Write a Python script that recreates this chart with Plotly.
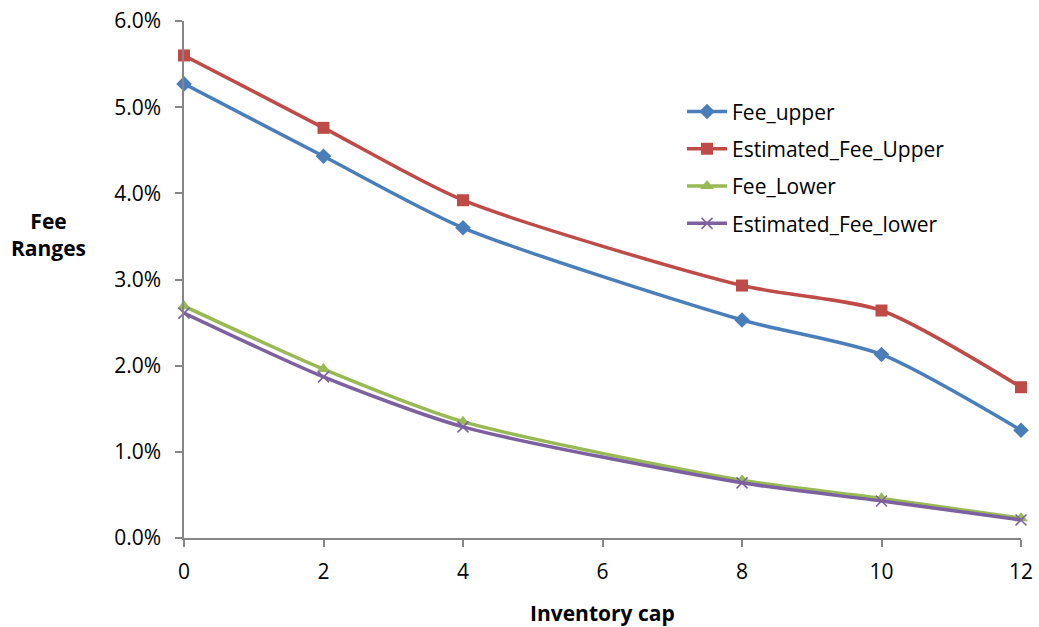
import plotly.graph_objects as go

inventory_cap = [0, 2, 4, 8, 10, 12]
fee_upper = [0.0527, 0.0443, 0.0360, 0.0253, 0.0213, 0.0125]
est_fee_upper = [0.0560, 0.0476, 0.0392, 0.0293, 0.0264, 0.0175]
fee_lower = [0.0269, 0.0196, 0.0135, 0.0067, 0.0046, 0.0023]
est_fee_lower = [0.0261, 0.0187, 0.0129, 0.0064, 0.0043, 0.0021]

x_ticks = [0, 2, 4, 6, 8, 10, 12]
y_ticks = [0, 0.01, 0.02, 0.03, 0.04, 0.05, 0.06]

FONT = "Open Sans"
FS = 21

series = [
    ("Fee_upper", fee_upper, "#4A7EBB", dict(symbol="diamond", size=12)),
    ("Estimated_Fee_Upper", est_fee_upper, "#BE4B48", dict(symbol="square", size=12)),
    ("Fee_Lower", fee_lower, "#98B954", dict(symbol="triangle-up", size=12)),
    ("Estimated_Fee_lower", est_fee_lower, "#7D60A0", dict(symbol="x-thin", size=11, line=dict(width=1.5, color="#7D60A0"))),
]

fig = go.Figure()
for i, (name, ys, color, mk) in enumerate(series):
    fig.add_trace(go.Scatter(
        x=inventory_cap, y=ys, name=name, mode="lines+markers",
        line=dict(color=color, width=3.5, shape="spline", smoothing=0.7),
        marker=dict(color=color, **mk),
        cliponaxis=False, legendgroup=str(i),
    ))

fig.update_layout(
    template="none",
    width=1039, height=627,
    margin=dict(l=184, r=18, t=21, b=89, autoexpand=False),
    paper_bgcolor="white", plot_bgcolor="white",
    font=dict(family=FONT, size=FS, color="#000000"),
    showlegend=True,
    legend=dict(x=0.595, y=0.864, xanchor="left", yanchor="top",
                traceorder="grouped", tracegroupgap=7, itemwidth=40,
                font=dict(family=FONT, size=FS), bgcolor="rgba(0,0,0,0)"),
    xaxis=dict(range=[0, 12], tickvals=x_ticks, ticktext=[str(v) for v in x_ticks],
               automargin=False,
               showgrid=False, zeroline=False, showline=True, linecolor="#868686", linewidth=1.5,
               ticks="outside", ticklen=7, tickcolor="#868686", tickwidth=1.5,
               ticklabelstandoff=7,
               tickfont=dict(family=FONT, size=FS)),
    yaxis=dict(range=[0, 0.06], tickvals=y_ticks, tickformat=".1%",
               automargin=False,
               showgrid=False, zeroline=False, showline=True, linecolor="#868686", linewidth=1.5,
               ticks="outside", ticklen=7, tickcolor="#868686", tickwidth=1.5,
               ticklabelstandoff=10,
               tickfont=dict(family=FONT, size=FS)),
    annotations=[
        dict(text="<b>Fee<br>Ranges</b>", xref="paper", yref="paper",
             x=-0.162, y=0.587, xanchor="center", yanchor="middle",
             showarrow=False, font=dict(family=FONT, size=FS)),
        dict(text="<b>Inventory cap</b>", xref="paper", yref="paper",
             x=0.5, y=-0.145, xanchor="center", yanchor="middle",
             showarrow=False, font=dict(family=FONT, size=FS)),
    ],
)

fig.write_html("out.html")
